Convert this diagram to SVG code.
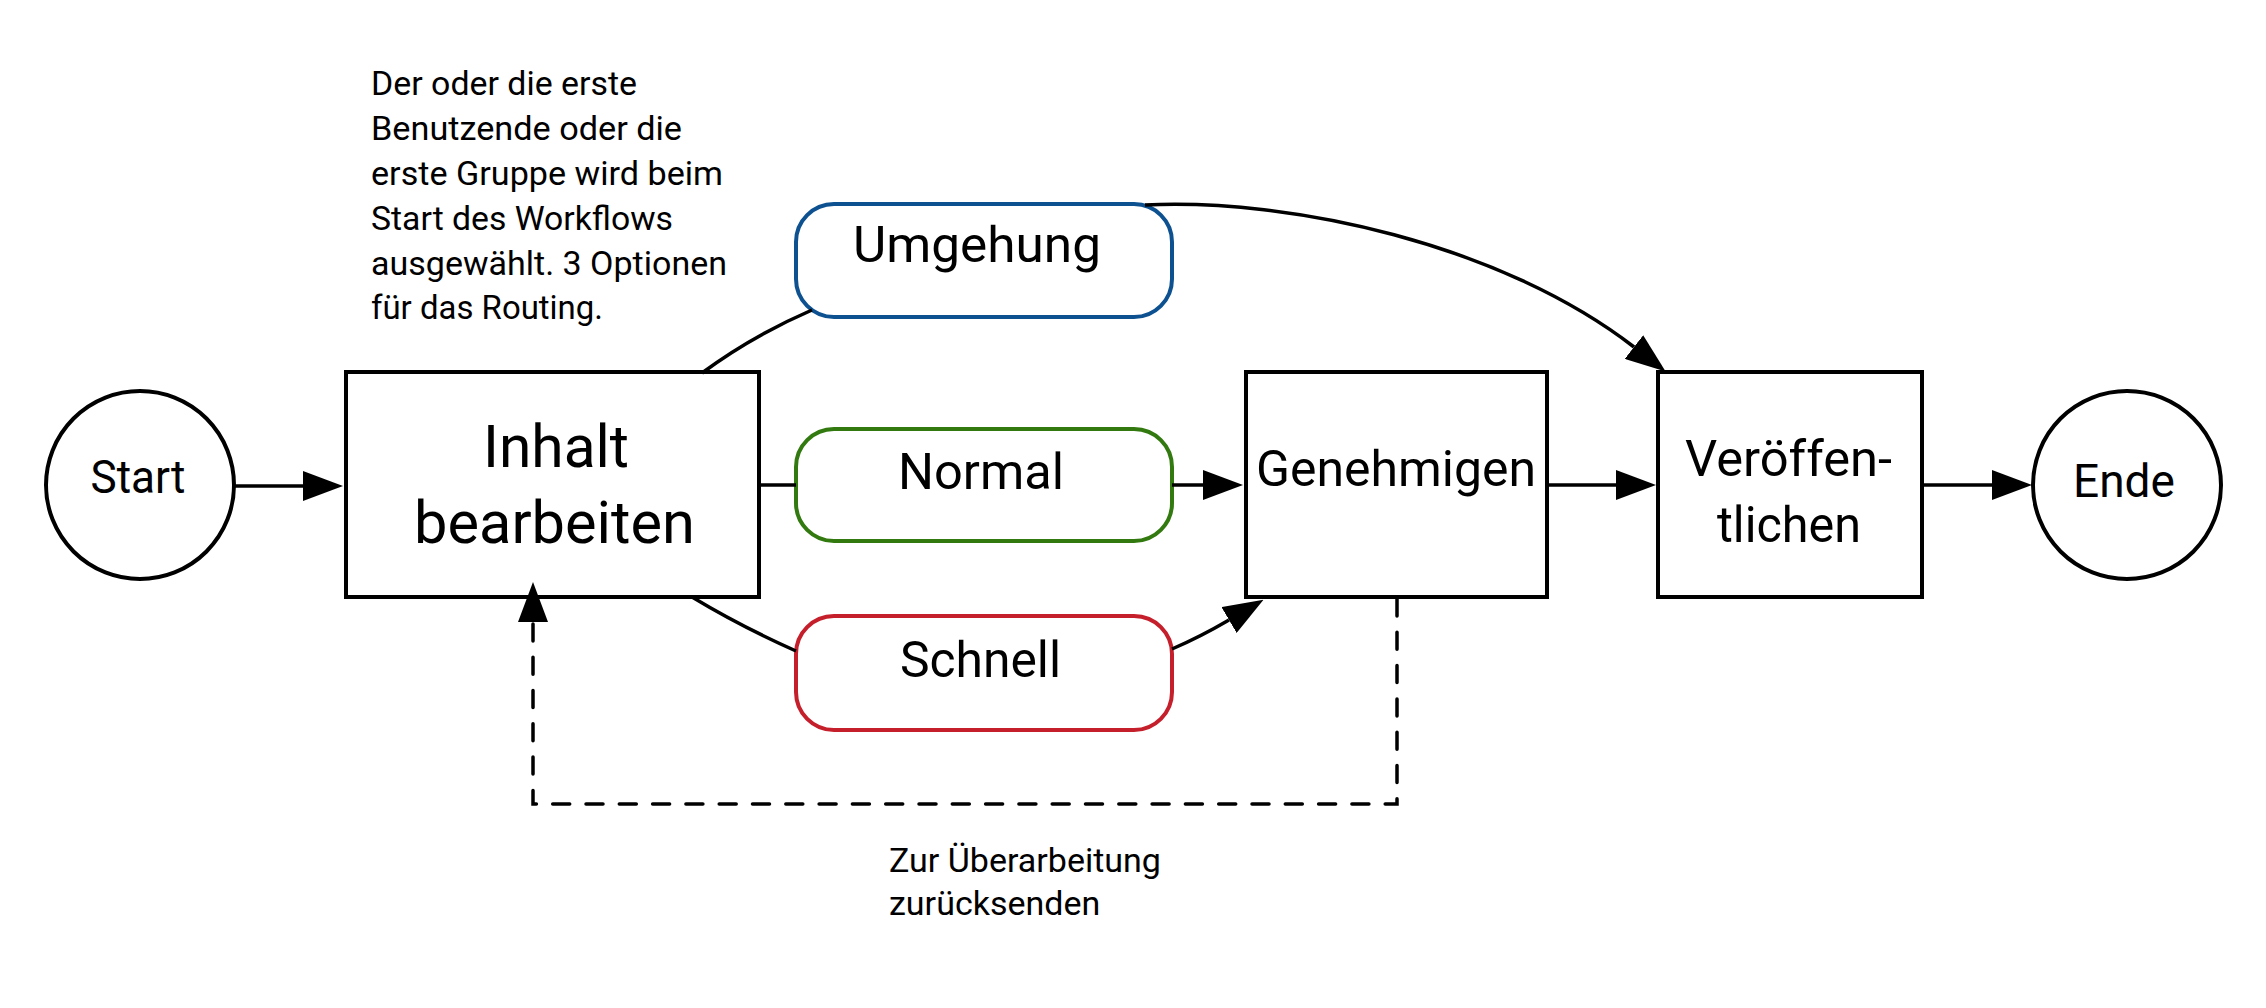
<svg xmlns="http://www.w3.org/2000/svg" width="2266" height="1008" viewBox="0 0 2266 1008">
  <style>
    .box { fill: #fff; stroke: #000; stroke-width: 4; }
    .circ { fill: #fff; stroke: #000; stroke-width: 4; }
    .opt { fill: #fff; stroke-width: 4; }
    .line { fill: none; stroke: #000; stroke-width: 3.5; }
    .dash { fill: none; stroke: #000; stroke-width: 3.5; stroke-dasharray: 17 16.3; stroke-linecap: round; }
    text { font-family: Roboto, "Liberation Sans", sans-serif; fill: #000; }
    .big { font-size: 59px; text-anchor: middle; }
    .mid { font-size: 50.5px; text-anchor: middle; }
    .term { font-size: 46px; text-anchor: middle; }
    .note { font-size: 34px; }
  </style>
  <defs>
    <marker id="arr" viewBox="0 0 40 30" refX="0" refY="15" markerWidth="40" markerHeight="30" markerUnits="userSpaceOnUse" orient="auto">
      <path d="M0,0 L40,15 L0,30 Z" fill="#000" stroke="none"/>
    </marker>
  </defs>
  <rect width="2266" height="1008" fill="#fff"/>

  <g id="note">
    <text class="note" x="371" y="95" textLength="266" lengthAdjust="spacingAndGlyphs">Der oder die erste</text>
    <text class="note" x="371" y="140" textLength="311" lengthAdjust="spacingAndGlyphs">Benutzende oder die</text>
    <text class="note" x="371" y="185" textLength="352" lengthAdjust="spacingAndGlyphs">erste Gruppe wird beim</text>
    <text class="note" x="371" y="230" textLength="302" lengthAdjust="spacingAndGlyphs">Start des Workflows</text>
    <text class="note" x="371" y="275" textLength="356" lengthAdjust="spacingAndGlyphs">ausgewählt. 3 Optionen</text>
    <text class="note" x="371" y="319" textLength="232" lengthAdjust="spacingAndGlyphs">für das Routing.</text>
  </g>

  <g id="start">
    <circle class="circ" cx="140" cy="485" r="94"/>
    <text class="term" x="138" y="493" textLength="95" lengthAdjust="spacingAndGlyphs">Start</text>
  </g>

  <g id="inhalt">
    <rect class="box" x="346" y="372" width="413" height="225"/>
    <text class="big" x="556" y="467" textLength="146" lengthAdjust="spacingAndGlyphs">Inhalt</text>
    <text class="big" x="554.5" y="543" textLength="281" lengthAdjust="spacingAndGlyphs">bearbeiten</text>
  </g>

  <g id="umgehung">
    <rect class="opt" x="796" y="204" width="376" height="113" rx="38" ry="38" stroke="#0d5191"/>
    <text class="mid" x="977" y="262" textLength="248" lengthAdjust="spacingAndGlyphs">Umgehung</text>
  </g>

  <g id="normal">
    <rect class="opt" x="796" y="429" width="376" height="112" rx="38" ry="38" stroke="#327a10"/>
    <text class="mid" x="981" y="489" textLength="166" lengthAdjust="spacingAndGlyphs">Normal</text>
  </g>

  <g id="schnell">
    <rect class="opt" x="796" y="616" width="376" height="114" rx="38" ry="38" stroke="#c51f2b"/>
    <text class="mid" x="980.5" y="677" textLength="161" lengthAdjust="spacingAndGlyphs">Schnell</text>
  </g>

  <g id="genehmigen">
    <rect class="box" x="1246" y="372" width="301" height="225"/>
    <text class="mid" x="1396" y="486" textLength="280" lengthAdjust="spacingAndGlyphs">Genehmigen</text>
  </g>

  <g id="veroeffentlichen">
    <rect class="box" x="1658" y="372" width="264" height="225"/>
    <text class="mid" x="1788.5" y="476" textLength="207" lengthAdjust="spacingAndGlyphs">Veröffen-</text>
    <text class="mid" x="1789" y="542" textLength="144" lengthAdjust="spacingAndGlyphs">tlichen</text>
  </g>

  <g id="ende">
    <circle class="circ" cx="2127" cy="485" r="94"/>
    <text class="term" x="2124" y="497">Ende</text>
  </g>

  <g id="connectors">
    <path class="line" d="M234,486 H303" marker-end="url(#arr)"/>
    <path class="line" d="M759,485 H796"/>
    <path class="line" d="M1172,485 H1203" marker-end="url(#arr)"/>
    <path class="line" d="M1547,485 H1616" marker-end="url(#arr)"/>
    <path class="line" d="M1922,485 H1992" marker-end="url(#arr)"/>
    <path class="line" d="M702,373 Q752,336 812,310"/>
    <path class="line" d="M1145,205 C1290,198 1501,244 1634,347" marker-end="url(#arr)"/>
    <path class="line" d="M692,597 Q740,626 796,651"/>
    <path class="line" d="M1172,649 Q1200,637 1229,620" marker-end="url(#arr)"/>
    <path class="dash" d="M1397,599 V804 H533 V622" marker-end="url(#arr)"/>
    <text class="note" x="889" y="872">Zur Überarbeitung</text>
    <text class="note" x="889" y="915">zurücksenden</text>
  </g>
</svg>
